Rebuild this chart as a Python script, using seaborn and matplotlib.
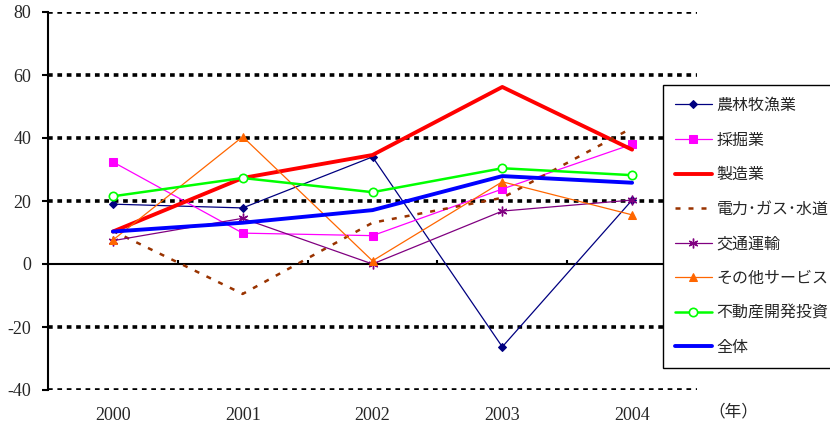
import matplotlib
matplotlib.use("Agg")
import matplotlib.pyplot as plt
import numpy as np
import seaborn as sns

years = ["2000", "2001", "2002", "2003", "2004"]

agri      = [19.0, 17.8, 34.0, -26.3, 20.3]   # 農林牧漁業
mining    = [32.4, 9.8, 9.0, 23.8, 38.0]      # 採掘業
manuf     = [10.3, 27.3, 34.6, 56.2, 36.3]    # 製造業
utility   = [10.5, -9.5, 13.1, 21.0, 43.2]    # 電力・ガス・水道
transport = [7.4, 14.5, 0.0, 16.8, 20.3]      # 交通運輸
services  = [7.6, 40.4, 1.0, 26.1, 15.6]      # その他サービス
realestate = [21.5, 27.3, 22.8, 30.4, 28.2]   # 不動産開発投資
total     = [10.3, 13.1, 17.1, 27.9, 25.8]    # 全体

sns.set_theme(style="white")
plt.rcParams["font.family"] = ["Liberation Serif", "Noto Sans CJK JP"]

fig = plt.figure(figsize=(8.3, 4.24), dpi=100)
ax = fig.add_axes([48 / 830, 1 - 390 / 424, (697 - 48) / 830, (390 - 12) / 424])

xpos = np.arange(len(years))

# dotted gridlines + zero line
for v in [80, 60, 40, 20, -20, -40]:
    ax.axhline(v, color="black", lw=2.6, ls=(0, (1.3, 1.3)), zorder=1)
ax.axhline(0, color="black", lw=1.5, zorder=1)
ax.vlines(xpos[:-1] + 0.5, 0, 1.3, color="black", lw=1.5, zorder=1)

series = [
    ("農林牧漁業", agri, dict(color="#000080", lw=0.9, marker="D", markersize=4.5,
                             markerfacecolor="#000080", markeredgecolor="#000080")),
    ("採掘業", mining, dict(color="#FF00FF", lw=0.9, marker="s", markersize=5.5,
                          markerfacecolor="#FF00FF", markeredgecolor="#FF00FF")),
    ("製造業", manuf, dict(color="#FF0000", lw=2.8)),
    ("電力･ガス･水道", utility, dict(color="#993300", lw=1.8, ls=(0, (2.0, 3.2)))),
    ("交通運輸", transport, dict(color="#800080", lw=0.9, marker=(6, 2, 0), markersize=7,
                             markeredgewidth=1.0, markeredgecolor="#800080")),
    ("その他サービス", services, dict(color="#FF6600", lw=0.9, marker="^", markersize=6,
                                 markerfacecolor="#FF6600", markeredgecolor="#FF6600")),
    ("不動産開発投資", realestate, dict(color="#00FF00", lw=1.8, marker="o", markersize=6,
                                   markerfacecolor="white", markeredgecolor="#00FF00",
                                   markeredgewidth=1.2)),
    ("全体", total, dict(color="#0000FF", lw=2.8)),
]

for name, vals, kw in series:
    sns.lineplot(x=xpos, y=vals, ax=ax, label=name, zorder=3, **kw)

ax.set_xlim(-0.5, 4.5)
ax.set_ylim(-40, 80)
ax.set_yticks([-40, -20, 0, 20, 40, 60, 80])
ax.set_yticklabels(["-40", "-20", "0", "20", "40", "60", "80"])
ax.set_xticks(xpos)
ax.set_xticklabels(years)
ax.tick_params(axis="x", length=0, pad=12, labelsize=13)
ax.tick_params(axis="y", length=4, width=1.5, direction="out", pad=8, labelsize=13,
               left=True, color="black")
for s in ["top", "right", "bottom"]:
    ax.spines[s].set_visible(False)
ax.spines["left"].set_color("black")
ax.spines["left"].set_linewidth(1.5)
ax.set_xlabel("")
ax.set_ylabel("")

fig.text(733 / 830, 1 - 412 / 424, "（年）", ha="center", va="center", fontsize=12,
         family=["Noto Sans CJK JP", "DejaVu Sans"])

handles, labels = ax.get_legend_handles_labels()
ax.get_legend().remove()
leg = fig.legend(handles, labels, loc="upper left",
                 bbox_to_anchor=(663 / 830, 1 - 85 / 424), borderaxespad=0,
                 prop={"family": ["Noto Sans CJK JP", "DejaVu Sans"], "size": 11.5},
                 handlelength=2.3, handletextpad=0.3, labelspacing=1.1,
                 borderpad=0.75, frameon=True, fancybox=False, framealpha=1)
leg.get_frame().set_edgecolor("black")
leg.get_frame().set_linewidth(1.0)

fig.savefig("out.png", dpi=100)
